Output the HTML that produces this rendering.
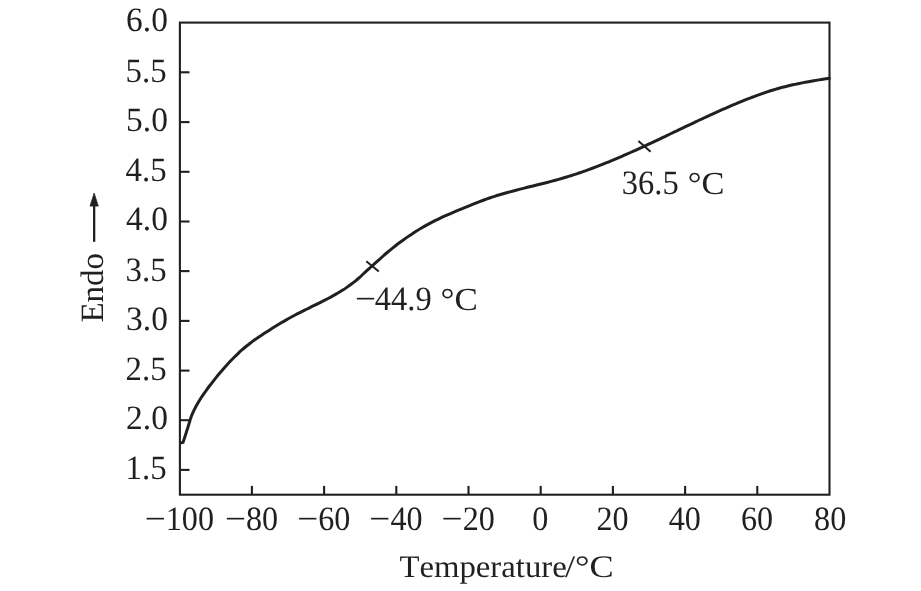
<!DOCTYPE html>
<html><head><meta charset="utf-8"><title>DSC curve</title>
<style>html,body{margin:0;padding:0;background:#fff}svg{display:block}</style></head>
<body>
<svg width="921" height="591" viewBox="0 0 921 591">
<rect width="921" height="591" fill="#fff"/>
<g fill="none" stroke="#231f20" stroke-width="2.1">
<rect x="179.9" y="22.6" width="649.6" height="472.1"/>
<line x1="179.9" y1="469.9" x2="189.5" y2="469.9"/>
<line x1="179.9" y1="420.2" x2="189.5" y2="420.2"/>
<line x1="179.9" y1="370.6" x2="189.5" y2="370.6"/>
<line x1="179.9" y1="320.9" x2="189.5" y2="320.9"/>
<line x1="179.9" y1="271.1" x2="189.5" y2="271.1"/>
<line x1="179.9" y1="221.5" x2="189.5" y2="221.5"/>
<line x1="179.9" y1="171.8" x2="189.5" y2="171.8"/>
<line x1="179.9" y1="122.1" x2="189.5" y2="122.1"/>
<line x1="179.9" y1="72.3" x2="189.5" y2="72.3"/>
<line x1="251.9" y1="494.7" x2="251.9" y2="485.9"/>
<line x1="324.1" y1="494.7" x2="324.1" y2="485.9"/>
<line x1="396.3" y1="494.7" x2="396.3" y2="485.9"/>
<line x1="468.5" y1="494.7" x2="468.5" y2="485.9"/>
<line x1="540.7" y1="494.7" x2="540.7" y2="485.9"/>
<line x1="612.9" y1="494.7" x2="612.9" y2="485.9"/>
<line x1="685.1" y1="494.7" x2="685.1" y2="485.9"/>
<line x1="757.3" y1="494.7" x2="757.3" y2="485.9"/>
</g>
<path d="M180.40 443.00 L183.00 442.40 C183.28 441.57 184.15 439.07 184.70 437.40 C185.25 435.73 185.77 434.07 186.30 432.40 C186.83 430.73 187.38 429.07 187.90 427.40 C188.42 425.73 188.89 424.07 189.40 422.40 C189.91 420.73 190.34 419.05 190.94 417.39 C191.54 415.73 192.28 414.08 193.01 412.46 C193.75 410.84 194.53 409.25 195.34 407.68 C196.16 406.11 197.02 404.57 197.90 403.04 C198.79 401.52 199.71 400.01 200.66 398.52 C201.61 397.03 202.59 395.57 203.59 394.11 C204.59 392.65 205.62 391.21 206.67 389.78 C207.71 388.35 208.78 386.93 209.85 385.52 C210.93 384.11 212.02 382.71 213.12 381.31 C214.22 379.91 215.33 378.52 216.45 377.14 C217.57 375.76 218.70 374.38 219.85 373.02 C220.99 371.65 222.14 370.30 223.31 368.95 C224.48 367.61 225.66 366.28 226.85 364.96 C228.04 363.64 229.25 362.34 230.48 361.05 C231.70 359.76 232.94 358.49 234.19 357.24 C235.45 355.99 236.72 354.75 238.01 353.54 C239.30 352.32 240.61 351.13 241.94 349.96 C243.27 348.79 244.62 347.64 245.99 346.51 C247.35 345.39 248.75 344.29 250.15 343.22 C251.56 342.14 252.99 341.09 254.43 340.06 C255.88 339.02 257.34 338.01 258.81 337.02 C260.27 336.02 261.76 335.04 263.24 334.06 C264.73 333.09 266.22 332.14 267.72 331.18 C269.21 330.23 270.71 329.28 272.21 328.34 C273.71 327.40 275.21 326.46 276.71 325.54 C278.22 324.61 279.73 323.70 281.25 322.79 C282.76 321.89 284.28 320.99 285.82 320.11 C287.35 319.23 288.89 318.36 290.45 317.51 C292.00 316.66 293.57 315.82 295.14 315.00 C296.71 314.17 298.30 313.36 299.88 312.56 C301.47 311.75 303.07 310.96 304.66 310.16 C306.26 309.37 307.87 308.59 309.47 307.80 C311.07 307.01 312.67 306.23 314.28 305.44 C315.88 304.66 317.48 303.87 319.08 303.07 C320.67 302.28 322.27 301.48 323.85 300.67 C325.44 299.86 327.02 299.04 328.59 298.21 C330.16 297.37 331.72 296.53 333.27 295.67 C334.82 294.81 336.35 293.93 337.88 293.03 C339.40 292.13 340.91 291.22 342.40 290.27 C343.89 289.33 345.37 288.37 346.82 287.38 C348.28 286.39 349.72 285.37 351.13 284.32 C352.54 283.27 353.94 282.19 355.30 281.08 C356.67 279.97 358.01 278.81 359.33 277.64 C360.65 276.46 361.94 275.23 363.23 274.02 C364.53 272.81 365.81 271.60 367.11 270.40 C368.41 269.21 369.72 268.03 371.03 266.85 C372.34 265.67 373.66 264.49 374.98 263.31 C376.30 262.13 377.61 260.95 378.94 259.77 C380.27 258.59 381.60 257.42 382.93 256.25 C384.27 255.08 385.61 253.92 386.97 252.77 C388.32 251.62 389.68 250.47 391.05 249.35 C392.42 248.22 393.79 247.11 395.18 246.01 C396.57 244.92 397.98 243.84 399.39 242.79 C400.81 241.73 402.23 240.69 403.67 239.66 C405.11 238.64 406.56 237.63 408.02 236.63 C409.49 235.64 410.96 234.65 412.45 233.69 C413.93 232.72 415.43 231.77 416.94 230.83 C418.45 229.89 419.97 228.97 421.50 228.07 C423.02 227.17 424.56 226.28 426.11 225.42 C427.66 224.55 429.22 223.70 430.79 222.87 C432.36 222.04 433.94 221.23 435.52 220.44 C437.11 219.65 438.71 218.88 440.31 218.13 C441.91 217.37 443.52 216.63 445.14 215.91 C446.75 215.18 448.37 214.47 450.00 213.77 C451.63 213.06 453.26 212.37 454.89 211.68 C456.53 210.99 458.16 210.31 459.80 209.63 C461.44 208.95 463.08 208.27 464.73 207.59 C466.37 206.91 468.01 206.23 469.65 205.56 C471.30 204.88 472.94 204.21 474.59 203.55 C476.25 202.89 477.90 202.23 479.56 201.60 C481.22 200.97 482.88 200.36 484.55 199.76 C486.22 199.16 487.90 198.58 489.57 198.02 C491.25 197.45 492.94 196.90 494.63 196.37 C496.31 195.83 498.01 195.31 499.70 194.80 C501.40 194.29 503.10 193.79 504.80 193.30 C506.50 192.81 508.21 192.33 509.92 191.86 C511.63 191.39 513.34 190.94 515.05 190.48 C516.77 190.03 518.49 189.58 520.20 189.14 C521.92 188.70 523.64 188.27 525.37 187.84 C527.09 187.41 528.81 186.98 530.54 186.56 C532.26 186.13 533.99 185.71 535.71 185.28 C537.43 184.86 539.16 184.44 540.88 184.01 C542.61 183.58 544.33 183.15 546.05 182.71 C547.77 182.27 549.49 181.83 551.21 181.38 C552.92 180.93 554.64 180.47 556.35 180.00 C558.06 179.53 559.77 179.05 561.47 178.56 C563.17 178.07 564.87 177.56 566.57 177.05 C568.26 176.53 569.96 176.00 571.64 175.47 C573.33 174.93 575.02 174.38 576.70 173.82 C578.38 173.26 580.06 172.69 581.73 172.11 C583.41 171.53 585.08 170.94 586.74 170.34 C588.41 169.74 590.08 169.13 591.74 168.51 C593.40 167.89 595.06 167.27 596.71 166.63 C598.37 166.00 600.02 165.35 601.67 164.70 C603.32 164.05 604.97 163.39 606.61 162.72 C608.25 162.06 609.90 161.38 611.53 160.70 C613.17 160.02 614.81 159.34 616.44 158.64 C618.08 157.95 619.71 157.25 621.34 156.55 C622.97 155.84 624.59 155.13 626.22 154.42 C627.84 153.70 629.46 152.98 631.09 152.25 C632.71 151.53 634.32 150.80 635.94 150.06 C637.56 149.33 639.17 148.59 640.78 147.85 C642.40 147.11 644.01 146.36 645.62 145.62 C647.23 144.87 648.83 144.12 650.44 143.36 C652.05 142.61 653.65 141.85 655.26 141.09 C656.86 140.34 658.46 139.58 660.07 138.81 C661.67 138.05 663.27 137.29 664.87 136.53 C666.47 135.76 668.07 135.00 669.67 134.23 C671.27 133.47 672.87 132.70 674.47 131.93 C676.07 131.17 677.67 130.40 679.27 129.64 C680.86 128.87 682.46 128.10 684.06 127.34 C685.66 126.58 687.26 125.81 688.86 125.05 C690.47 124.29 692.07 123.53 693.67 122.77 C695.27 122.02 696.88 121.26 698.48 120.51 C700.08 119.75 701.69 119.00 703.30 118.25 C704.90 117.51 706.51 116.76 708.12 116.02 C709.73 115.28 711.35 114.54 712.96 113.81 C714.57 113.08 716.19 112.35 717.81 111.62 C719.42 110.90 721.04 110.17 722.67 109.46 C724.29 108.74 725.91 108.03 727.54 107.33 C729.17 106.62 730.80 105.92 732.43 105.23 C734.06 104.54 735.70 103.85 737.34 103.17 C738.98 102.49 740.62 101.81 742.27 101.15 C743.91 100.48 745.56 99.82 747.21 99.17 C748.87 98.52 750.52 97.88 752.18 97.25 C753.84 96.62 755.51 95.99 757.17 95.38 C758.84 94.78 760.51 94.18 762.19 93.59 C763.87 93.01 765.55 92.44 767.23 91.88 C768.91 91.32 770.60 90.78 772.30 90.25 C773.99 89.73 775.69 89.22 777.39 88.72 C779.09 88.23 780.80 87.76 782.51 87.30 C784.22 86.84 785.94 86.40 787.66 85.98 C789.38 85.57 791.11 85.17 792.84 84.78 C794.57 84.39 796.30 84.03 798.04 83.67 C799.78 83.31 801.52 82.97 803.26 82.64 C805.00 82.31 806.75 81.99 808.49 81.68 C810.24 81.36 811.99 81.06 813.74 80.76 C815.49 80.47 817.24 80.18 818.99 79.89 C820.74 79.60 822.50 79.32 824.25 79.04 C826.00 78.75 828.44 78.35 829.50 78.19 C830.56 78.02 830.42 78.07 830.60 78.05" fill="none" stroke="#231f20" stroke-width="3.0" stroke-linejoin="round"/>
<g stroke="#231f20" stroke-width="2">
<line x1="366.3" y1="261.2" x2="378.8" y2="271.6"/>
<line x1="638.4" y1="141" x2="650.6" y2="151.8"/>
</g>
<g font-family="'Liberation Serif', 'Times New Roman', serif" font-size="33" fill="#231f20" style="font-kerning:none;text-rendering:geometricPrecision">
<text transform="translate(166.60,479.30) scale(0.9950,1.0350)" text-anchor="end">1.5</text>
<text transform="translate(167.90,429.15) scale(1.0150,1.0350)" text-anchor="end">2.0</text>
<text transform="translate(166.60,379.90) scale(0.9950,1.0350)" text-anchor="end">2.5</text>
<text transform="translate(167.90,329.75) scale(1.0150,1.0350)" text-anchor="end">3.0</text>
<text transform="translate(166.60,280.50) scale(0.9950,1.0350)" text-anchor="end">3.5</text>
<text transform="translate(167.90,230.35) scale(1.0150,1.0350)" text-anchor="end">4.0</text>
<text transform="translate(166.60,181.10) scale(0.9950,1.0350)" text-anchor="end">4.5</text>
<text transform="translate(167.90,130.95) scale(1.0150,1.0350)" text-anchor="end">5.0</text>
<text transform="translate(166.60,81.70) scale(0.9950,1.0350)" text-anchor="end">5.5</text>
<text transform="translate(167.90,30.95) scale(1.0150,1.0350)" text-anchor="end">6.0</text>
<text transform="translate(0,530.30) scale(1,1.0350)"><tspan x="144.75" y="0" textLength="21.05" lengthAdjust="spacingAndGlyphs">−</tspan><tspan x="165.79" y="0" textLength="48.26" lengthAdjust="spacingAndGlyphs">100</tspan></text>
<text transform="translate(0,530.30) scale(1,1.0350)"><tspan x="224.99" y="0" textLength="21.05" lengthAdjust="spacingAndGlyphs">−</tspan><tspan x="246.04" y="0" textLength="32.17" lengthAdjust="spacingAndGlyphs">80</tspan></text>
<text transform="translate(0,530.30) scale(1,1.0350)"><tspan x="297.19" y="0" textLength="21.05" lengthAdjust="spacingAndGlyphs">−</tspan><tspan x="318.24" y="0" textLength="32.17" lengthAdjust="spacingAndGlyphs">60</tspan></text>
<text transform="translate(0,530.30) scale(1,1.0350)"><tspan x="369.39" y="0" textLength="21.05" lengthAdjust="spacingAndGlyphs">−</tspan><tspan x="390.44" y="0" textLength="32.17" lengthAdjust="spacingAndGlyphs">40</tspan></text>
<text transform="translate(0,530.30) scale(1,1.0350)"><tspan x="441.59" y="0" textLength="21.05" lengthAdjust="spacingAndGlyphs">−</tspan><tspan x="462.64" y="0" textLength="32.17" lengthAdjust="spacingAndGlyphs">20</tspan></text>
<text transform="translate(540.40,530.30) scale(0.9750,1.0350)" text-anchor="middle">0</text>
<text transform="translate(612.60,530.30) scale(0.9750,1.0350)" text-anchor="middle">20</text>
<text transform="translate(684.80,530.30) scale(0.9750,1.0350)" text-anchor="middle">40</text>
<text transform="translate(757.00,530.30) scale(0.9750,1.0350)" text-anchor="middle">60</text>
<text transform="translate(830.20,530.30) scale(0.9750,1.0350)" text-anchor="middle">80</text>
<text transform="translate(0,577.30) scale(1,0.9500)"><tspan x="399.40" y="0" textLength="167.38" lengthAdjust="spacingAndGlyphs">Temperature</tspan><tspan x="565.00" y="0" textLength="48.83" lengthAdjust="spacingAndGlyphs">/°C</tspan></text>
<text transform="translate(0,193.50) scale(1,1.0350)"><tspan x="621.80" y="0" textLength="56.88" lengthAdjust="spacingAndGlyphs">36.5</tspan> <tspan x="687.70" y="0" textLength="36.63" lengthAdjust="spacingAndGlyphs" font-size="30.93">°C</tspan></text>
<text transform="translate(0,310.30) scale(1,1.0350)"><tspan x="355.05" y="0" textLength="21.05" lengthAdjust="spacingAndGlyphs">−</tspan><tspan x="374.80" y="0" textLength="56.88" lengthAdjust="spacingAndGlyphs">44.9</tspan> <tspan x="440.60" y="0" textLength="37.33" lengthAdjust="spacingAndGlyphs" font-size="30.93">°C</tspan></text>
<text transform="translate(102.90,322.60) rotate(-90) scale(1.0000,0.9850)">Endo</text>
</g>
<line x1="94.15" y1="241.8" x2="94.15" y2="205" stroke="#231f20" stroke-width="2.3"/>
<path d="M94.15 193 L90 206.1 L98.3 206.1 Z" fill="#231f20" stroke="#231f20" stroke-width="0.7" stroke-linejoin="round"/>
</svg>
</body></html>
